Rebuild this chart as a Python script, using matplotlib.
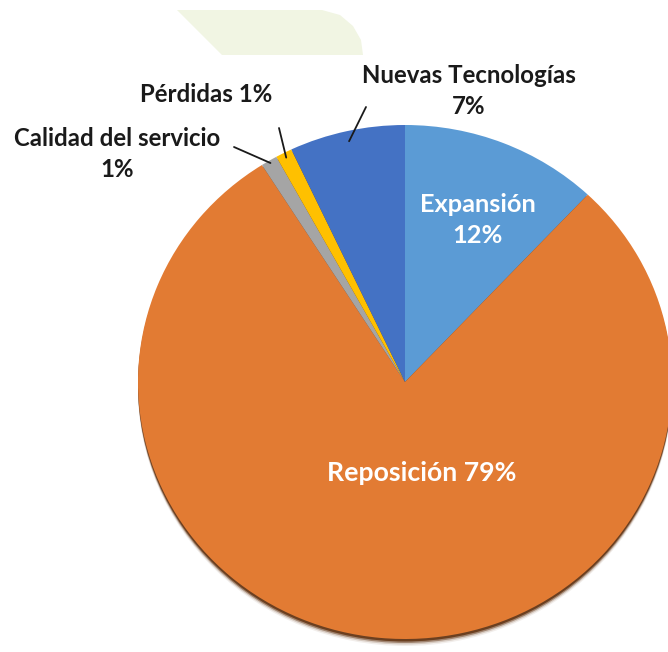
import numpy as np
import matplotlib.pyplot as plt
from matplotlib.patches import Ellipse, Polygon

labels = ['Expansión', 'Reposición', 'Calidad del servicio', 'Pérdidas', 'Nuevas Tecnologías']
values = [12, 79, 1, 1, 7]
colors = ['#5B9BD5', '#E27B33', '#A5A5A5', '#FFC000', '#4472C4']

plt.rcParams['font.family'] = ['Lato', 'DejaVu Sans']

W, H = 668, 652
cx, cy, rx, ry = 405, 382, 267, 257

fig = plt.figure(figsize=(W/100, H/100), dpi=100)
ax = fig.add_axes([0, 0, 1, 1])
ov = fig.add_axes([0, 0, 1, 1])
ov.patch.set_alpha(0)
ov.set_xlim(0, W)
ov.set_ylim(H, 0)
ov.axis('off')

# shadow under the bottom edge of the pie
for d, a in [(7, 0.08), (5.5, 0.18), (4, 0.45), (2.5, 0.8)]:
    ax.add_patch(Ellipse((0, -d/ry), 2, 2, color='#5e2e0c', alpha=a, lw=0, zorder=0))

wedges, _ = ax.pie(values, colors=colors, startangle=90, counterclock=False,
                   radius=1, wedgeprops=dict(linewidth=0))
for w in wedges:
    w.set_zorder(2)
ax.set_aspect('auto')
ax.set_xlim(-cx/rx, (W-cx)/rx)
ax.set_ylim(-(H-cy)/ry, cy/ry)
ax.axis('off')

# light green shape at the top
ov.add_patch(Polygon([(177, 10), (322, 10), (340, 15), (353, 26), (361, 40), (363, 55), (222, 55)],
                     closed=True, color='#F1F5E3', lw=0, zorder=0))

def anchor(i, r):
    w = wedges[i]
    t = np.deg2rad((w.theta1 + w.theta2) / 2)
    return (r*np.cos(t), r*np.sin(t))

txt = dict(fontsize=17.3, fontweight='bold', color='#1a1a1a', ha='center', va='center')
line = dict(arrowstyle='-', color='#1a1a1a', lw=1.3, shrinkA=0, shrinkB=0)

ov.text(469, 91, '%s\n%d%%' % (labels[4], values[4]), linespacing=1.42, **txt)
ax.annotate('', xy=anchor(4, 0.96), xytext=(366, 107), textcoords=ov.transData, arrowprops=line)

ov.text(206, 94, '%s %d%%' % (labels[3], values[3]), **txt)
ax.annotate('', xy=anchor(3, 0.98), xytext=(279, 128), textcoords=ov.transData, arrowprops=line)

ov.text(117, 154, '%s\n%d%%' % (labels[2], values[2]), linespacing=1.42, **txt)
ax.annotate('', xy=anchor(2, 0.99), xytext=(234, 147), textcoords=ov.transData, arrowprops=line)

ov.text(478, 220, '%s\n%d%%' % (labels[0], values[0]), fontsize=18.3, fontweight='bold',
        color='white', ha='center', va='center', linespacing=1.45)
ov.text(422, 473, '%s %d%%' % (labels[1], values[1]), fontsize=19.2, fontweight='bold',
        color='white', ha='center', va='center')

fig.savefig('out.png', dpi=100)
